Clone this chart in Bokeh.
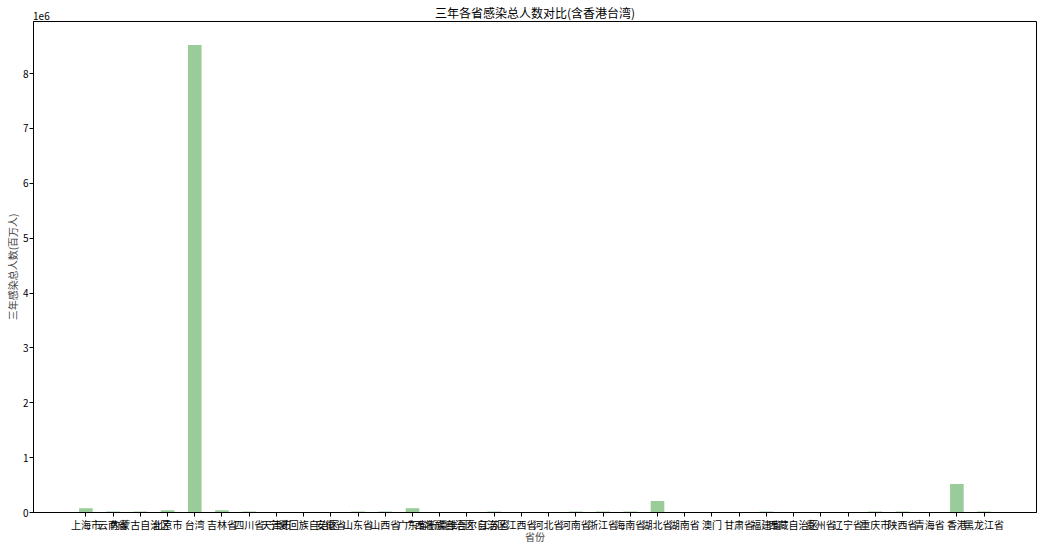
from bokeh.plotting import figure
from bokeh.models import FixedTicker, CustomJSTickFormatter, Range1d, LinearAxis
from bokeh.embed import file_html
from bokeh.resources import INLINE

provinces = ["上海市", "云南省", "内蒙古自治区", "北京市", "台湾", "吉林省", "四川省", "天津市",
             "宁夏回族自治区", "安徽省", "山东省", "山西省", "广东省", "广西壮族自治区",
             "新疆维吾尔自治区", "江苏省", "江西省", "河北省", "河南省", "浙江省", "海南省",
             "湖北省", "湖南省", "澳门", "甘肃省", "福建省", "西藏自治区", "贵州省", "辽宁省",
             "重庆市", "陕西省", "青海省", "香港", "黑龙江省"]
totals = [78000, 20000, 20000, 40000, 8520000, 42000, 20000, 5000,
          4000, 6000, 20000, 20000, 78000, 6000,
          6000, 20000, 4000, 6000, 20000, 20000, 20000,
          210000, 5000, 3000, 5000, 20000, 2000, 5000, 6000,
          20000, 20000, 3000, 520000, 20000]
y_ticks = [0, 1e6, 2e6, 3e6, 4e6, 5e6, 6e6, 7e6, 8e6]
title_text = "三年各省感染总人数对比(含香港台湾)"
offset_text = "1e6"

FONT = "Noto Sans CJK SC"
xs = list(range(len(provinces)))
x_lo, x_hi = -1.925, len(provinces) - 1 + 1.925

p = figure(width=1044, height=549, output_backend="svg", toolbar_location=None,
           x_range=Range1d(x_lo, x_hi),
           y_range=Range1d(0, 8.95e6),
           min_border_left=33, min_border_right=8, min_border_top=0, min_border_bottom=37)
p.vbar(x=xs, top=totals, width=0.5, fill_color="#99cc99", line_color=None)

p.xgrid.visible = False
p.ygrid.visible = False
p.outline_line_color = "black"
p.outline_line_width = 1

p.xaxis.ticker = FixedTicker(ticks=xs)
p.xaxis.major_label_overrides = {i: n for i, n in enumerate(provinces)}
p.yaxis.ticker = FixedTicker(ticks=y_ticks)
p.yaxis.formatter = CustomJSTickFormatter(code="return (tick/1e6).toFixed(0);")
p.xaxis.axis_label = "省份"
p.yaxis.axis_label = "三年感染总人数(百万人)"

for ax in (p.xaxis[0], p.yaxis[0]):
    ax.axis_line_color = "black"
    ax.major_tick_line_color = "black"
    ax.major_tick_out = 4
    ax.major_tick_in = 0
    ax.minor_tick_line_color = None
    ax.major_label_text_font = FONT
    ax.major_label_text_font_size = "10px"
    ax.major_label_text_color = "black"
    ax.axis_label_text_font = FONT
    ax.axis_label_text_font_size = "10px"
    ax.axis_label_text_font_style = "normal"
    ax.axis_label_standoff = 0
    ax.major_label_standoff = 1
p.xaxis[0].major_label_standoff = 0
p.xaxis[0].axis_label_standoff = -6

# top axis: carries the title (as axis label) and the "1e6" offset text
top = LinearAxis(ticker=FixedTicker(ticks=[x_lo + 0.29]),
                 formatter=CustomJSTickFormatter(args=dict(t=offset_text), code="return t;"),
                 axis_label=title_text)
top.axis_line_color = None
top.major_tick_line_color = None
top.minor_tick_line_color = None
top.major_tick_out = 0
top.major_tick_in = 0
top.major_label_standoff = 2
top.major_label_text_font = FONT
top.major_label_text_font_size = "10px"
top.major_label_text_color = "black"
top.axis_label_text_font = FONT
top.axis_label_text_font_size = "12px"
top.axis_label_text_font_style = "normal"
top.axis_label_text_color = "black"
top.axis_label_standoff = -12
p.add_layout(top, "above")

open("out.html", "w").write(file_html(p, INLINE))
